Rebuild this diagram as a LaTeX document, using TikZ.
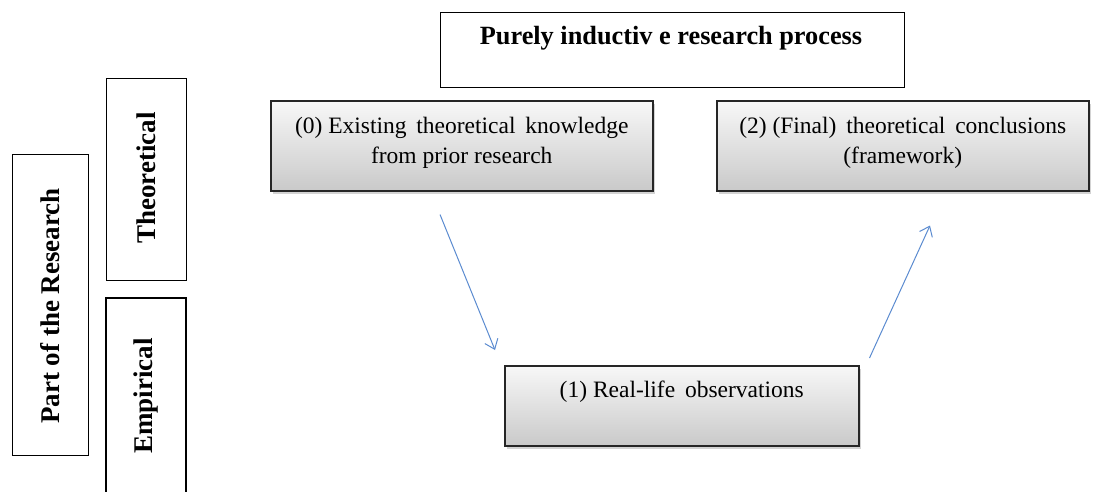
\documentclass[tikz,border=0pt]{standalone}
\usepackage{fontspec}
\setmainfont{Liberation Serif}
\usetikzlibrary{arrows.meta,shadows,calc}
\definecolor{flowblue}{HTML}{5B8BD0}
\tikzset{
  plainbox/.style={draw=black, line width=1.2pt, fill=white, inner sep=0pt},
  procbox/.style={draw=black!85, line width=1.5pt, top color=gray!6, bottom color=gray!42,
    inner sep=0pt, drop shadow={shadow xshift=2pt, shadow yshift=-3pt, opacity=0.35}},
  boxtext/.style={font=\fontsize{23.5}{30}\selectfont, align=center, inner sep=0pt},
  sidetext/.style={font=\fontsize{27}{30}\selectfont\bfseries, rotate=90, inner sep=0pt},
  flow/.style={draw=flowblue, line width=1pt, -{Straight Barb[length=9pt,width=14pt,line width=1pt]}}
}
\begin{document}
\begin{tikzpicture}[x=1pt,y=-1pt]
\useasboundingbox (0,0) rectangle (1097,491);

% title
\node[plainbox, minimum width=464, minimum height=75, anchor=north west] (title) at (440,12) {};
\node[font=\fontsize{26.3}{30}\selectfont\bfseries, inner sep=0pt] (titletext) at (671,38) {Purely inductiv e research process};

% side labels
\node[plainbox, minimum width=76, minimum height=301, anchor=north west] (part) at (12,154) {};
\node[sidetext] (parttext) at (50,306) {Part of the Research};
\node[plainbox, minimum width=80, minimum height=202, anchor=north west] (theo) at (106,78) {};
\node[sidetext] (theotext) at (146,178) {Theoretical};
\draw[line width=1.2pt] (106,510) |- (186,298) -- (186,510);
\coordinate (empc) at (146,396);
\node[sidetext] (emptext) at (empc) {Empirical};

% process steps
\node[procbox, minimum width=382, minimum height=90, anchor=north west] (b0) at (270,100) {};
\node[boxtext, anchor=base] (b0text) at ($(b0.north)+(0,63)$) {(0) Existing\, theoretical\, knowledge\\from prior research};
\node[procbox, minimum width=372, minimum height=90, anchor=north west] (b2) at (716,100) {};
\node[boxtext, anchor=base] (b2text) at ($(b2.north)+(0,63)$) {(2) (Final)\, theoretical\, conclusions\\(framework)};
\node[procbox, minimum width=354, minimum height=80, anchor=north west] (b1) at (504,365) {};
\node[boxtext, anchor=base] (b1text) at ($(b1.north)+(0,32)$) {(1) Real-life\, observations};

% flow arrows
\coordinate (a0s) at ($(b0.south west)+(170,23)$);
\coordinate (a0e) at ($(b1.north west)+(-9,-15)$);
\coordinate (a1s) at ($(b1.north east)+(10,-7)$);
\coordinate (a1e) at ($(b2.south west)+(214,34)$);
\draw[flow] (a0s) -- (a0e);
\draw[flow] (a1s) -- (a1e);
\end{tikzpicture}
\end{document}
